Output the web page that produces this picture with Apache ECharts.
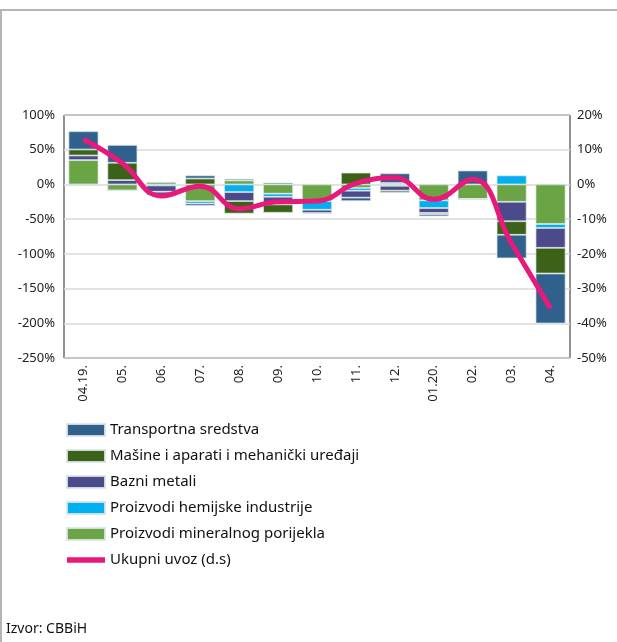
<!DOCTYPE html>
<html>
<head>
<meta charset="utf-8">
<script src="https://cdn.jsdelivr.net/npm/echarts@6/dist/echarts.min.js"></script>
<style>
  html, body { margin: 0; padding: 0; background: #fff; }
  #chart { width: 617px; height: 642px; }
</style>
</head>
<body>
<div id="chart"></div>
<script>
// mjeseci
const months = ["04.19.", "05.", "06.", "07.", "08.", "09.", "10.", "11.", "12.", "01.20.", "02.", "03.", "04."];

// doprinosi po grupama (lijeva osa, %)
const transport = [26.3, 25.7, -5, 4.5, 2.4, 2.5, 0, -5, 14, -3, 20, -34, -72];
const masine = [8.6, 25, 0, 8.5, -18, -12, 0, 17, -3, -2, 0, -19.5, -37];
const bazni = [6.7, 6.2, -9, -3.3, -13, -11, -5, -10, -7, -7, 0, -28, -28.6];
const hemijske = [-1.5, 0, -1.5, -3.5, -11, -4.5, -12.5, -4, 2, -11, 0, 13, -5.7];
const mineral = [35, -8.6, 3.5, -24, 5.7, -13.3, -24, -5, -2, -23, -21, -25, -57];

// ukupni uvoz (desna osa, %)
const ukupni = [13, 6.1, -3.3, -0.5, -7, -5, -4.8, 0.3, 1.9, -4.3, 1.5, -17, -35.7];

const font = "'Noto Sans', sans-serif";

let myChart = echarts.init(document.getElementById("chart"));

function barSeries(name, data, color) {
  return {
    name: name,
    type: "bar",
    stack: "uvoz",
    barWidth: "77%",
    data: data,
    itemStyle: { color: color, borderColor: "rgba(220,228,232,0.9)", borderWidth: 0.8 },
  };
}

myChart.setOption({
  animation: false,
  textStyle: { fontFamily: font },
  grid: {
    left: 64,
    right: 47,
    top: 115,
    bottom: 284,
    show: true,
    borderColor: "#222",
    borderWidth: 1,
    outerBoundsMode: "none",
  },
  legend: {
    orient: "vertical",
    left: 61,
    top: 416,
    itemWidth: 38,
    itemHeight: 12,
    itemGap: 8,
    textStyle: { fontFamily: font, fontSize: 15, color: "#111", lineHeight: 18 },
    data: [
      { name: "Transportna sredstva", icon: "rect" },
      { name: "Mašine i aparati i mehanički uređaji", icon: "rect" },
      { name: "Bazni metali", icon: "rect" },
      { name: "Proizvodi hemijske industrije", icon: "rect" },
      { name: "Proizvodi mineralnog porijekla", icon: "rect" },
      { name: "Ukupni uvoz (d.s)", icon: "path://M0,0 L40,0 L40,6 L0,6 Z" },
    ],
  },
  xAxis: {
    type: "category",
    data: months,
    axisLine: { show: false },
    axisTick: { show: false },
    axisLabel: { rotate: 90, fontSize: 13, color: "#222", margin: 7 },
  },
  yAxis: [
    {
      type: "value",
      min: -250,
      max: 100,
      interval: 50,
      axisLine: { show: false },
      axisTick: { show: false },
      axisLabel: { formatter: "{value}%", fontSize: 13, color: "#222", margin: 9 },
      splitLine: { lineStyle: { color: "#d9d9d9", width: 1.5 } },
    },
    {
      type: "value",
      min: -50,
      max: 20,
      interval: 10,
      position: "right",
      axisLine: { show: false },
      axisTick: { show: false },
      axisLabel: { formatter: "{value}%", fontSize: 13, color: "#222", margin: 7 },
      splitLine: { show: false },
    },
  ],
  series: [
    barSeries("Proizvodi mineralnog porijekla", mineral, "#6aa444"),
    barSeries("Proizvodi hemijske industrije", hemijske, "#00b0f0"),
    barSeries("Bazni metali", bazni, "#4b4b8c"),
    barSeries("Mašine i aparati i mehanički uređaji", masine, "#3b6218"),
    barSeries("Transportna sredstva", transport, "#30608c"),
    {
      name: "Ukupni uvoz (d.s)",
      type: "line",
      yAxisIndex: 1,
      data: ukupni,
      smooth: 0.45,
      symbol: "none",
      z: 10,
      itemStyle: { color: "#e8197b" },
      lineStyle: { color: "#e8197b", width: 5 },
    },
  ],
  graphic: [
    { type: "line", shape: { x1: 0, y1: 10, x2: 617, y2: 10 }, style: { stroke: "#b5b5b5", lineWidth: 2 } },
    { type: "line", shape: { x1: 1, y1: 10, x2: 1, y2: 642 }, style: { stroke: "#b5b5b5", lineWidth: 2 } },
    {
      type: "text",
      left: 6,
      top: 622,
      style: { text: "Izvor: CBBiH", font: "14px 'Noto Sans', sans-serif", fill: "#111" },
    },
  ],
});
</script>
</body>
</html>
